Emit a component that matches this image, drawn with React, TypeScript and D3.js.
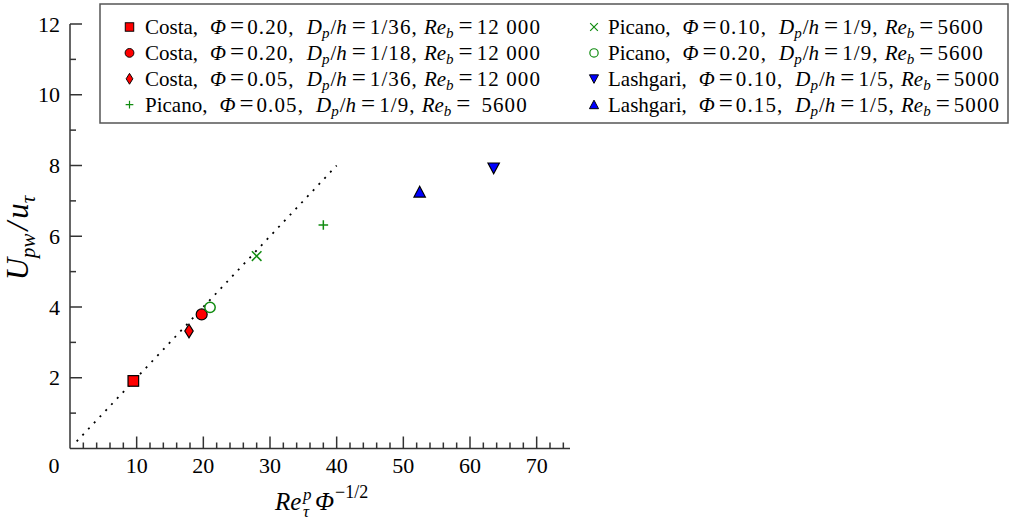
import React from "react";
import * as d3 from "d3";

const authors = ["Costa", "Costa", "Costa", "Picano", "Picano", "Picano", "Lashgari", "Lashgari"];
const phiValues = ["0.20", "0.20", "0.05", "0.05", "0.10", "0.20", "0.10", "0.15"];
const dpOverH = ["1/36", "1/18", "1/36", "1/9", "1/9", "1/9", "1/5", "1/5"];
const reBulk = ["12 000", "12 000", "12 000", "5600", "5600", "5600", "5000", "5000"];
const xValues = [9.5, 19.75, 17.85, 38.0, 28.0, 21.0, 63.55, 52.45];
const yValues = [1.91, 3.79, 3.32, 6.32, 5.44, 3.99, 7.93, 7.25];
const markerKinds = ["square", "circle", "diamond", "plus", "cross", "ocircle", "tridown", "triup"];
const fitLine = [
  { x: 1, y: 0.2 },
  { x: 40, y: 8 },
];
const xMajorTicks = [10, 20, 30, 40, 50, 60, 70];
const yMajorTicks = [2, 4, 6, 8, 10, 12];

const RED = "#ff0000";
const GREEN = "#118c11";
const BLUE = "#0000ff";
const FONT = "'Liberation Serif', 'Times New Roman', serif";

function Marker({ kind, cx, cy, s = 1 }: { kind: string; cx: number; cy: number; s?: number }) {
  const t = `translate(${cx},${cy}) scale(${s})`;
  switch (kind) {
    case "square":
      return <rect transform={t} x={-5.3} y={-5.3} width={10.6} height={10.6} fill={RED} stroke="#000" strokeWidth={1.2} />;
    case "circle":
      return <circle transform={t} r={5.5} fill={RED} stroke="#000" strokeWidth={1.2} />;
    case "diamond":
      return <polygon transform={t} points="0,-6.8 4.2,0 0,6.8 -4.2,0" fill={RED} stroke="#000" strokeWidth={1.2} />;
    case "plus":
      return <path transform={t} d="M-4.8,0H4.8M0,-4.8V4.8" stroke={GREEN} strokeWidth={1.5} fill="none" />;
    case "cross":
      return <path transform={t} d="M-4.8,-4.8L4.8,4.8M-4.8,4.8L4.8,-4.8" stroke={GREEN} strokeWidth={1.5} fill="none" />;
    case "ocircle":
      return <circle transform={t} r={5.2} fill="none" stroke={GREEN} strokeWidth={1.5} />;
    case "tridown":
      return <polygon transform={t} points="-5.7,-5 5.7,-5 0,5.7" fill={BLUE} stroke="#000" strokeWidth={1.2} />;
    case "triup":
      return <polygon transform={t} points="-5.7,5 5.7,5 0,-5.7" fill={BLUE} stroke="#000" strokeWidth={1.2} />;
    default:
      return null;
  }
}

function LegendText({ i, x, y, reGap = 4 }: { i: number; x: number; y: number; reGap?: number }) {
  const it = { fontStyle: "italic" as const };
  const num = { letterSpacing: 1.1 };
  return (
    <text x={x} y={y} fontSize={21} fill="#000">
      <tspan>{authors[i] + ","}</tspan>
      <tspan {...it} dx={12}>Φ</tspan>
      <tspan dx={4} fontSize={25}>=</tspan>
      <tspan dx={3} {...num}>{phiValues[i] + ","}</tspan>
      <tspan {...it} dx={12}>D</tspan>
      <tspan {...it} fontSize={15} dy={4}>p</tspan>
      <tspan dy={-4} dx={1}>/</tspan>
      <tspan {...it}>h</tspan>
      <tspan dx={5} fontSize={25}>=</tspan>
      <tspan dx={4} {...num}>{dpOverH[i] + ","}</tspan>
      <tspan {...it} dx={6}>Re</tspan>
      <tspan {...it} fontSize={15} dy={4}>b</tspan>
      <tspan dy={-4} dx={5} fontSize={25}>=</tspan>
      <tspan dx={reGap} {...num}>{reBulk[i]}</tspan>
    </text>
  );
}

export default function App() {
  const x = d3.scaleLinear().domain([0, 75]).range([70, 570]);
  const y = d3.scaleLinear().domain([0, 12]).range([448.5, 24]);
  const line = d3
    .line<{ x: number; y: number }>()
    .x((d) => x(d.x))
    .y((d) => y(d.y));

  const xMinor = d3.range(2, 75, 2).filter((v) => v % 10 !== 0);
  const yMinor = d3.range(1, 12, 2);

  const legendRows = [0, 1, 2, 3];
  const rowBase = (r: number) => 34 + r * 25.9;

  return (
    <svg
      width={1011}
      height={521}
      style={{ position: "absolute", left: 0, top: 0, background: "#fff", fontFamily: FONT, whiteSpace: "pre" }}
    >
      <rect x={0} y={0} width={1011} height={521} fill="#fff" />
      {/* fit line */}
      <path d={line(fitLine) || ""} stroke="#000" strokeWidth={1.8} strokeDasharray="2 6.4" fill="none" />

      {/* axes */}
      <g stroke="#333" strokeWidth={1.5}>
        <line x1={x(0)} x2={x(0)} y1={y(0)} y2={y(12)} />
        <line x1={x(0)} x2={x(75)} y1={y(0)} y2={y(0)} />
        {xMajorTicks.map((v) => (
          <line key={"xM" + v} x1={x(v)} x2={x(v)} y1={y(0)} y2={y(0) - 12} />
        ))}
        {xMinor.map((v) => (
          <line key={"xm" + v} x1={x(v)} x2={x(v)} y1={y(0)} y2={y(0) - 6} />
        ))}
        {yMajorTicks.map((v) => (
          <line key={"yM" + v} x1={x(0)} x2={x(0) + 12} y1={y(v)} y2={y(v)} />
        ))}
        {yMinor.map((v) => (
          <line key={"ym" + v} x1={x(0)} x2={x(0) + 6} y1={y(v)} y2={y(v)} />
        ))}
      </g>
      {xMajorTicks.map((v) => (
        <text key={"xl" + v} x={x(v)} y={473} textAnchor="middle" fontSize={22}>
          {v}
        </text>
      ))}
      <text x={54} y={473} textAnchor="middle" fontSize={22}>
        0
      </text>
      {yMajorTicks.map((v) => (
        <text key={"yl" + v} x={60} y={y(v) + 7.5} textAnchor="end" fontSize={22}>
          {v}
        </text>
      ))}

      {/* axis titles */}
      <g transform="translate(28,238) rotate(-90)">
        <text textAnchor="middle" fontSize={31} fontStyle="italic">
          U<tspan fontSize={21} dy={7}>pw</tspan>
          <tspan dy={-7} dx={3}>/</tspan>
          <tspan dx={3}>u</tspan>
          <tspan fontSize={21} dy={7}>τ</tspan>
        </text>
      </g>
      <g fontStyle="italic">
        <text x={275} y={510} fontSize={25}>Re</text>
        <text x={303} y={500} fontSize={17}>p</text>
        <text x={303} y={517} fontSize={17}>τ</text>
        <text x={315} y={510} fontSize={25}>Φ</text>
      </g>
      <text x={335} y={498} fontSize={18}>−1/2</text>

      {/* data */}
      {xValues.map((v, i) => (
        <Marker key={"m" + i} kind={markerKinds[i]} cx={x(v)} cy={y(yValues[i])} />
      ))}

      {/* legend */}
      <rect x={100} y={4} width={908} height={119} fill="#fff" stroke="#555" strokeWidth={1.5} />
      {legendRows.map((r) => (
        <g key={"l1" + r}>
          <Marker kind={markerKinds[r]} cx={129.5} cy={rowBase(r) - 7} s={0.8} />
          <LegendText i={r} x={145} y={rowBase(r)} reGap={r === 3 ? 11 : 4} />
        </g>
      ))}
      {legendRows.map((r) => (
        <g key={"l2" + r}>
          <Marker kind={markerKinds[r + 4]} cx={594} cy={rowBase(r) - 7} s={0.8} />
          <LegendText i={r + 4} x={608} y={rowBase(r)} />
        </g>
      ))}
    </svg>
  );
}
